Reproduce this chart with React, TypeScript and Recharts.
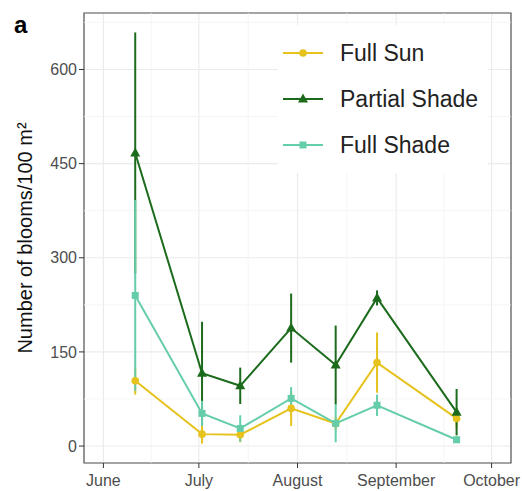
import React from 'react';
import {
  LineChart,
  Line,
  XAxis,
  YAxis,
  CartesianGrid,
  ErrorBar,
  ReferenceLine,
  ReferenceArea,
  Legend,
  Label,
} from 'recharts';

// sampling dates and bloom counts (mean +/- error) per shade level
const sampleDates = ['2019-06-11', '2019-07-02', '2019-07-14', '2019-07-30', '2019-08-13', '2019-08-26', '2019-09-20'];
const fullSun = [104, 19, 18, 60, 36, 133, 44];
const fullSunErr = [22, 15, 12, 28, 10, 48, 15];
const partialShade = [467, 116, 96, 188, 129, 236, 54];
const partialShadeErr = [192, 82, 29, 55, 63, 12, 37];
const fullShade = [240, 52, 28, 76, 36, 65, 10];
const fullShadeErr = [152, 20, 21, 18, 30, 17, 5];

const monthLabels = ['June', 'July', 'August', 'September', 'October'];
const monthStarts = ['2019-06-01', '2019-07-01', '2019-08-01', '2019-09-01', '2019-10-01'];
const yTicks = [0, 150, 300, 450, 600];
const yMinor = [75, 225, 375, 525, 675];

const DAY = 86400000;
const origin = Date.parse('2019-06-01');
const toDay = (d: string) => Math.round((Date.parse(d) - origin) / DAY);

const xTicks = monthStarts.map(toDay);
const xMinor = xTicks.slice(1).map((t, i) => (t + xTicks[i]) / 2);
const xDomain = [xTicks[0] - 6.1, xTicks[4] + 6.1];

const data = sampleDates.map((d, i) => ({
  day: toDay(d),
  sun: fullSun[i],
  sunErr: fullSunErr[i],
  partial: partialShade[i],
  partialErr: partialShadeErr[i],
  shade: fullShade[i],
  shadeErr: fullShadeErr[i],
}));

const SUN = '#e6c21c';
const PARTIAL = '#1c6b1c';
const SHADE = '#66cdaa';
const FONT = '"Liberation Sans", Arial, Helvetica, sans-serif';

const Marker = ({ shape, cx, cy, color }: any) => {
  if (cx == null || cy == null) return <g />;
  if (shape === 'triangle') {
    return <polygon points={`${cx},${cy - 5.5} ${cx - 5},${cy + 3.5} ${cx + 5},${cy + 3.5}`} fill={color} />;
  }
  if (shape === 'square') {
    return <rect x={cx - 3.5} y={cy - 3.5} width={7} height={7} fill={color} />;
  }
  return <circle cx={cx} cy={cy} r={3.8} fill={color} />;
};

const series = [
  { key: 'sun', err: 'sunErr', name: 'Full Sun', color: SUN, shape: 'circle' },
  { key: 'partial', err: 'partialErr', name: 'Partial Shade', color: PARTIAL, shape: 'triangle' },
  { key: 'shade', err: 'shadeErr', name: 'Full Shade', color: SHADE, shape: 'square' },
];

const LegendBox = () => (
  <div style={{ background: '#fff', padding: '5px 10px 5px 5px', fontFamily: FONT }}>
    {series.map((s) => (
      <div key={s.key} style={{ display: 'flex', alignItems: 'center', height: 46 }}>
        <svg width={40} height={20}>
          <line x1={0} y1={10} x2={40} y2={10} stroke={s.color} strokeWidth={2} />
          <Marker shape={s.shape} cx={20} cy={10} color={s.color} />
        </svg>
        <span style={{ marginLeft: 17, fontSize: 23, color: '#222' }}>{s.name}</span>
      </div>
    ))}
  </div>
);

export default function App() {
  return (
    <div style={{ position: 'absolute', left: 0, top: 0, width: 522, height: 491, background: '#fff' }}>
      <div
        style={{
          position: 'absolute',
          left: 14,
          top: 13,
          fontFamily: FONT,
          fontWeight: 'bold',
          fontSize: 24,
          lineHeight: '24px',
          zIndex: 2,
        }}
      >
        a
      </div>
      <LineChart width={522} height={491} data={data} margin={{ top: 13, right: 11, left: 0, bottom: 0 }}>
        <CartesianGrid stroke="#ebebeb" strokeWidth={1.1} />
        {yMinor.map((v) => (
          <ReferenceLine key={`hy${v}`} y={v} stroke="#f3f3f3" strokeWidth={0.8} />
        ))}
        {xMinor.map((v) => (
          <ReferenceLine key={`vx${v}`} x={v} stroke="#f3f3f3" strokeWidth={0.8} />
        ))}
        <XAxis
          type="number"
          dataKey="day"
          domain={xDomain}
          allowDataOverflow
          ticks={xTicks}
          tickFormatter={(v: number) => monthLabels[xTicks.indexOf(v)] ?? ''}
          height={28}
          axisLine={false}
          tickLine={{ stroke: '#333' }}
          tickSize={5}
          tickMargin={7}
          tick={{ fill: '#4d4d4d', fontSize: 16, fontFamily: FONT }}
        />
        <YAxis
          type="number"
          domain={[-27, 690]}
          allowDataOverflow
          ticks={yTicks}
          width={84}
          axisLine={false}
          tickLine={{ stroke: '#333' }}
          tickSize={5}
          tickMargin={2}
          tick={{ fill: '#4d4d4d', fontSize: 16, fontFamily: FONT }}
        >
          <Label
            content={() => (
              <text
                x={25}
                y={238}
                transform="rotate(-90 25 238)"
                textAnchor="middle"
                dominantBaseline="central"
                fontSize={20}
                fontFamily={FONT}
                fill="#111"
              >
                Number of blooms/100 m²
              </text>
            )}
          />
        </YAxis>
        {series.map((s) => (
          <Line
            key={s.key}
            dataKey={s.key}
            name={s.name}
            stroke={s.color}
            strokeWidth={2}
            isAnimationActive={false}
            dot={(p: any) => <Marker key={`${s.key}${p.index}`} shape={s.shape} cx={p.cx} cy={p.cy} color={s.color} />}
            activeDot={false}
          >
            <ErrorBar dataKey={s.err} width={0} stroke={s.color} strokeWidth={2} direction="y" isAnimationActive={false} />
          </Line>
        ))}
        <ReferenceArea
          x1={xDomain[0]}
          x2={xDomain[1]}
          y1={-27}
          y2={690}
          fill="none"
          stroke="#555"
          strokeWidth={1.2}
          ifOverflow="extendDomain"
        />
        <Legend
          layout="vertical"
          align="center"
          verticalAlign="middle"
          content={() => <LegendBox />}
          wrapperStyle={{ position: 'absolute', left: 278, top: 25, width: 'auto' }}
        />
      </LineChart>
    </div>
  );
}
